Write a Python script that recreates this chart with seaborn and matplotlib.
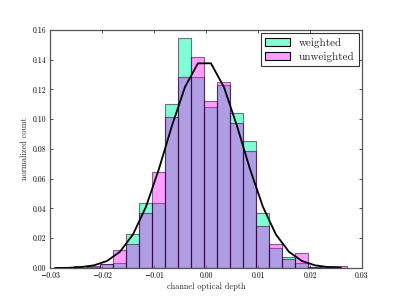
import numpy as np
import pandas as pd
import matplotlib
matplotlib.use("Agg")
import matplotlib.pyplot as plt
from matplotlib.patches import Patch
import seaborn as sns

# ---- data ----
bin_edges = [float(v) for v in np.linspace(-0.0253, 0.0272, 22)]
weighted = [0.0000, 0.0007, 0.0030, 0.0036, 0.0226, 0.0435, 0.0435, 0.1103,
            0.1544, 0.1286, 0.1080, 0.1228, 0.1040, 0.0852, 0.0372, 0.0137,
            0.0076, 0.0036, 0.0004, 0.0004, 0.0000]
unweighted = [0.0013, 0.0013, 0.0027, 0.0121, 0.0159, 0.0368, 0.0643, 0.1017,
              0.1286, 0.1416, 0.1125, 0.1250, 0.0977, 0.0787, 0.0285, 0.0161,
              0.0058, 0.0099, 0.0010, 0.0013, 0.0013]
curve_x = [-0.02905, -0.02655, -0.02405, -0.02155, -0.01905, -0.01655, -0.01405,
           -0.01155, -0.00905, -0.00655, -0.00405, -0.00155, 0.00095, 0.00345,
           0.00595, 0.00845, 0.01095, 0.01345, 0.01595, 0.01845, 0.02095,
           0.02345, 0.02595]
curve_y = [0.0000, 0.0001, 0.0006, 0.0018, 0.0047, 0.0109, 0.0225, 0.0411,
           0.0666, 0.0956, 0.1216, 0.1376, 0.1376, 0.1216, 0.0956, 0.0666,
           0.0411, 0.0225, 0.0109, 0.0047, 0.0018, 0.0006, 0.0002]
x_ticks = [-0.03, -0.02, -0.01, 0.00, 0.01, 0.02, 0.03]
y_ticks = [0.00, 0.02, 0.04, 0.06, 0.08, 0.10, 0.12, 0.14, 0.16]

sns.set_style("white")
plt.rcParams["font.family"] = ["cmr10", "DejaVu Serif"]
plt.rcParams["mathtext.fontset"] = "cm"
plt.rcParams["axes.unicode_minus"] = True

centers = [0.5 * (a + b) for a, b in zip(bin_edges[:-1], bin_edges[1:])]
df_w = pd.DataFrame({"x": centers, "h": weighted})
df_u = pd.DataFrame({"x": centers, "h": unweighted})
cdf = pd.DataFrame({"x": curve_x, "y": curve_y})

fig = plt.figure(figsize=(3.99, 2.99), dpi=100)
ax = fig.add_axes([0.1253, 0.1037, 0.7820, 0.7960])

green = (0.0, 1.0, 0.66)
pink = (1.0, 0.0, 1.0)
a_green = 0.5
a_pink = 0.38

sns.histplot(data=df_w, x="x", weights="h", bins=bin_edges, stat="count",
             color=green, alpha=a_green, linewidth=0.8, ax=ax)
n_w = len(ax.patches)
sns.histplot(data=df_u, x="x", weights="h", bins=bin_edges, stat="count",
             color=pink, alpha=a_pink, linewidth=0.8, ax=ax)
for i, p in enumerate(ax.patches):
    if i < n_w:
        p.set_facecolor((*green, a_green))
    else:
        p.set_facecolor((*pink, a_pink))
    p.set_edgecolor((0.12, 0.0, 0.18, 0.55))
    p.set_linewidth(0.8)

sns.lineplot(data=cdf, x="x", y="y", color="black", linewidth=1.3, ax=ax)

ax.set_xlim(-0.03, 0.03)
ax.set_ylim(0, 0.16)
ax.set_xticks(x_ticks)
ax.set_yticks(y_ticks)
ax.set_xticklabels([f"{v:.2f}".replace("-", "\u2212") for v in x_ticks])
ax.set_yticklabels([f"{v:.2f}" for v in y_ticks])
ax.tick_params(direction="in", length=2.5, width=0.5, labelsize=5.5,
               top=True, right=True, bottom=True, left=True, pad=2.5,
               colors="black")
for s in ax.spines.values():
    s.set_linewidth(0.9)
    s.set_color("#555555")
ax.set_xlabel("channel optical depth", fontsize=6, labelpad=2)
ax.set_ylabel("normalized count", fontsize=6, labelpad=3)

handles = [Patch(facecolor=(*green, a_green), edgecolor="black", linewidth=0.8, label="weighted"),
           Patch(facecolor=(*pink, a_pink), edgecolor="black", linewidth=0.8, label="unweighted")]
leg = ax.legend(handles=handles, loc="upper right", fontsize=8, frameon=True,
                fancybox=False, borderaxespad=0.3, handlelength=2.2,
                handleheight=0.8, handletextpad=0.8, borderpad=0.4,
                labelspacing=0.35)
leg.get_frame().set_edgecolor("black")
leg.get_frame().set_linewidth(0.8)

fig.savefig("out.png", dpi=100)
